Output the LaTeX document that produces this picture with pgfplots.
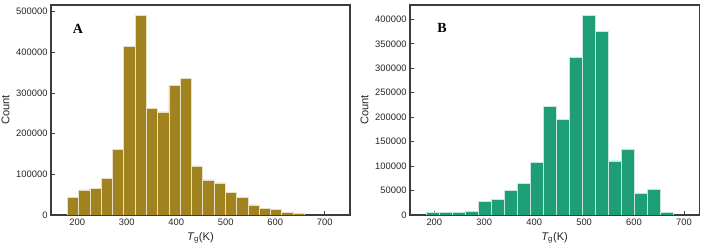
\documentclass[border=0pt]{standalone}
\usepackage{pgfplots}
\pgfplotsset{compat=1.18}
\usepackage{fontspec}
\setmainfont{Liberation Sans}
\newfontfamily\timesfont{Liberation Serif}
\definecolor{colA}{RGB}{160,130,30}
\definecolor{colB}{RGB}{30,158,119}
\definecolor{frame}{RGB}{60,60,60}
\pgfplotsset{
  histstyle/.style={
    scale only axis,
    anchor=south west,
    height=210bp,
    ymin=0,
    axis line style={frame, line width=1.1bp},
    every tick/.style={frame, line width=0.8bp},
    major tick length=4bp,
    xtick pos=bottom, ytick pos=left,
    tick align=inside,
    xtick={200,300,400,500,600,700},
    scaled y ticks=false,
    /pgf/number format/.cd, fixed, 1000 sep={}, assume math mode=true,
    /pgfplots/.cd,
    tick label style={font=\fontsize{9.4}{10}\selectfont, text=black!85},
    label style={font=\fontsize{11.2}{12}\selectfont, text=black!85},
    xlabel={{\itshape T}\textsubscript{g}(K)},
    ylabel={Count},
  }
}
\begin{document}
\begin{tikzpicture}
\useasboundingbox (0,0) rectangle (714bp,248bp);
\begin{axis}[histstyle, at={(51bp,33bp)}, width=299bp,
  xmin=147, xmax=751, ymax=516400,
  ytick={0,100000,200000,300000,400000,500000}]
\addplot[ybar interval, fill=colA, draw=colA!25!white, line width=0.8bp] coordinates {
(180.0,43400) (202.8,61500) (225.6,64800) (248.4,89300) (271.2,160700)
(294.0,414800) (316.8,491000) (339.6,262300) (362.4,253300) (385.2,318900)
(408.0,335200) (430.8,120500) (453.6,86100) (476.4,78700) (499.2,54900)
(522.0,43400) (544.8,24600) (567.6,17200) (590.4,13900) (613.2,5700)
(636.0,4100) (658.8,4100)};
\node[font=\timesfont\bfseries\fontsize{14}{15}\selectfont, anchor=center] at (rel axis cs:0.09,0.887) {A};
\end{axis}
\begin{axis}[histstyle, at={(410bp,33bp)}, width=289.3bp,
  xmin=151.3, xmax=730.7, ymax=429300,
  ytick={0,50000,100000,150000,200000,250000,300000,350000,400000}]
\addplot[ybar interval, fill=colB, draw=colB!25!white, line width=0.8bp] coordinates {
(184.7,5500) (210.7,4800) (236.7,6100) (262.7,7500) (288.7,28600)
(314.7,32700) (340.7,51100) (366.7,64700) (392.7,107700) (418.7,221500)
(444.7,194900) (470.7,322300) (496.7,407500) (522.7,374800) (548.7,110400)
(574.7,134900) (600.7,44300) (626.7,53100) (652.7,6100) (678.7,6100)};
\node[font=\timesfont\bfseries\fontsize{14}{15}\selectfont, anchor=center] at (rel axis cs:0.111,0.89) {B};
\end{axis}
\end{tikzpicture}
\end{document}
